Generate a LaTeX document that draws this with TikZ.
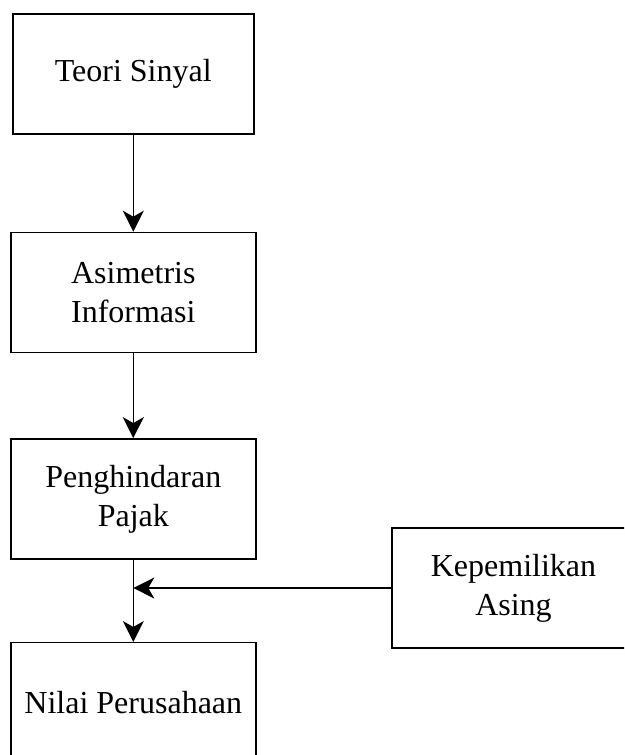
\documentclass[tikz,border=0pt]{standalone}
\usepackage{fontspec}
\setmainfont{Liberation Serif}
\usetikzlibrary{arrows.meta,positioning}

\begin{document}
\begin{tikzpicture}[
  x=1pt, y=-1pt,
  font=\fontsize{32}{39}\selectfont,
  box/.style={draw, line width=1.4pt, align=center, minimum width=245pt, minimum height=120pt, inner sep=3pt},
  arr/.style={-{Stealth[length=21pt, width=21pt, inset=6pt]}, line width=1.4pt},
  node distance=85pt
]
\useasboundingbox (0,0) rectangle (624,755);
\clip (0,0) rectangle (624,755);

\node[box, minimum width=241pt] (teori) at (133.3,74) {Teori Sinyal};
\node[box, below=97pt of teori] (asimetris) {Asimetris\\Informasi};
\node[box, below=of asimetris] (pajak) {Penghindaran\\Pajak};
\node[box, below=82.5pt of pajak] (nilai) {Nilai Perusahaan};
\node[box, minimum width=243pt] (asing) at (513.5,588) {Kepemilikan\\Asing};

\draw[arr] (teori) -- (asimetris);
\draw[arr] (asimetris) -- (pajak);
\draw[arr] (pajak) -- (nilai);
\draw[arr] (asing.west) -- (asing.west -| pajak.south);

\end{tikzpicture}
\end{document}
